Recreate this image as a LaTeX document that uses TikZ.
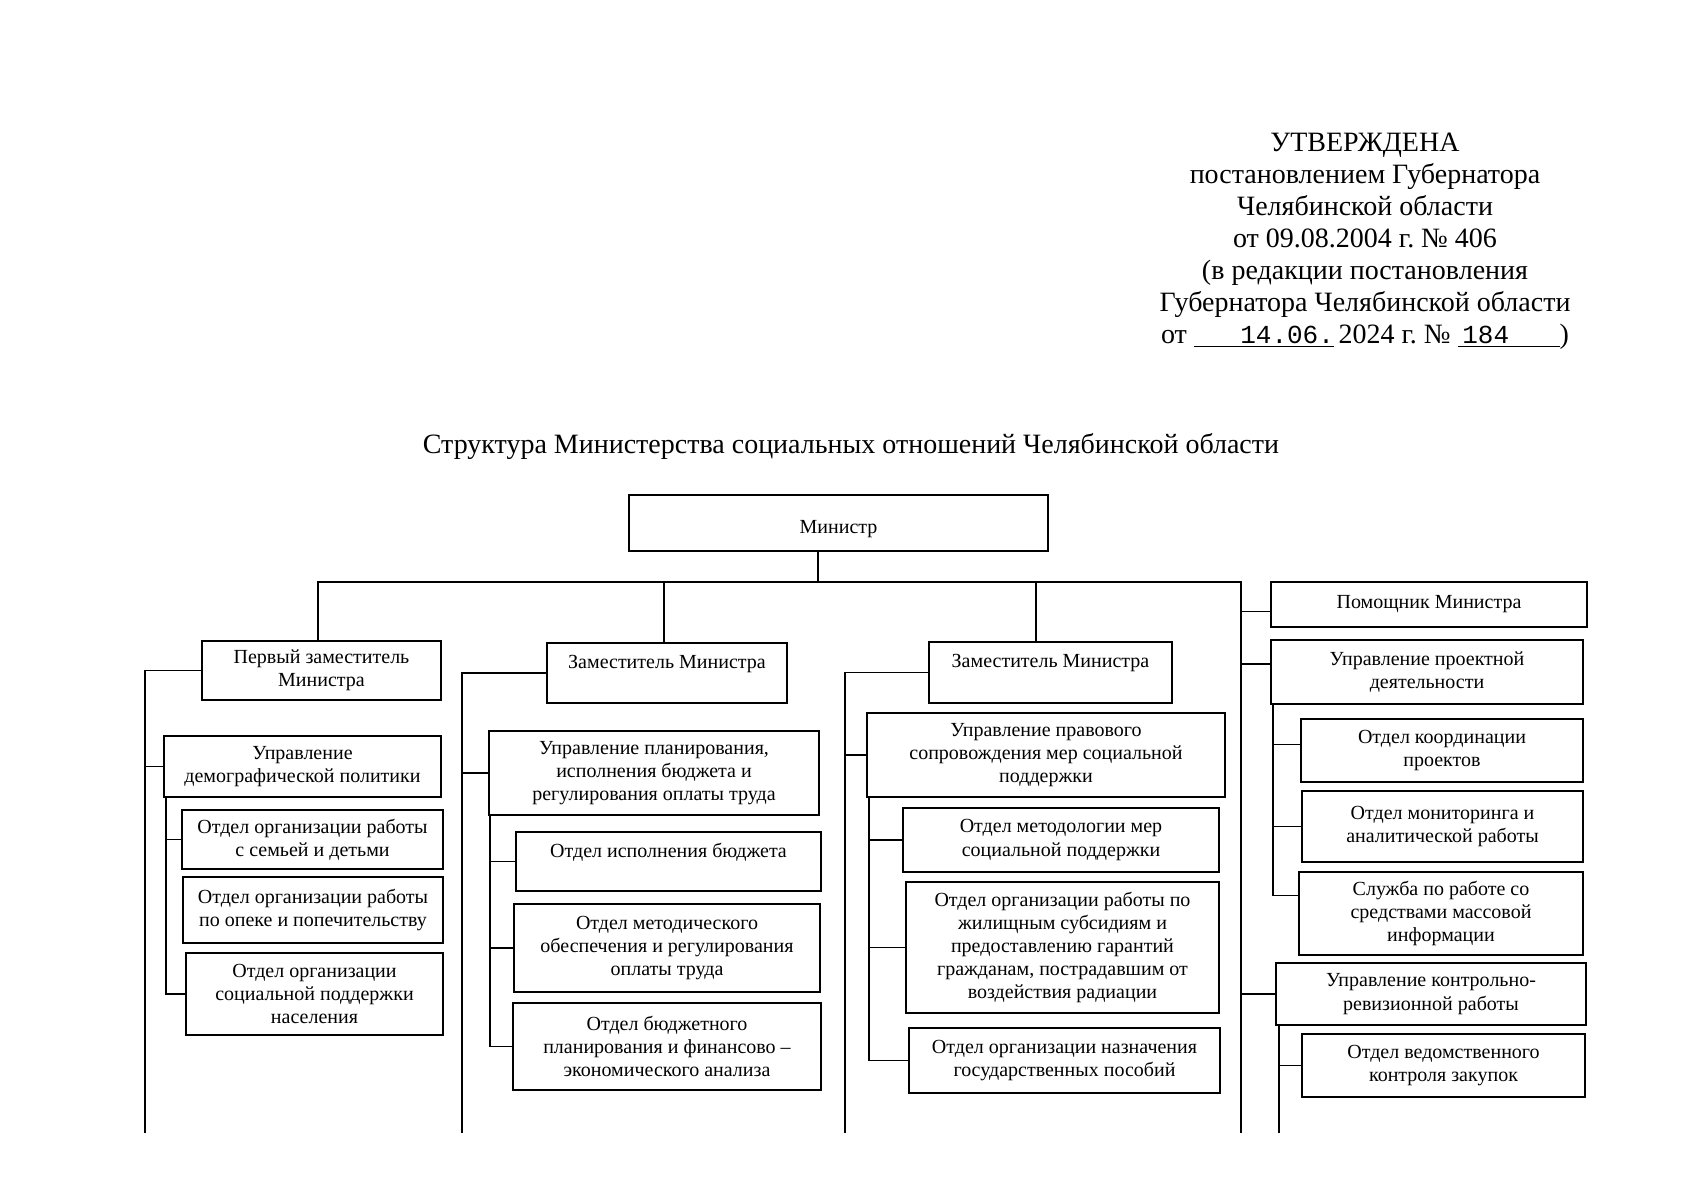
\documentclass[tikz,border=0pt]{standalone}
\usepackage{fontspec}
\setmainfont{Liberation Serif}
\newfontfamily\monof{Liberation Mono}
\frenchspacing
\newcommand\orgbox[6]{\node[box, minimum width={(#4-#2)*0.5pt}, minimum height={(#5-#3)*0.5pt}] (#1) at ({(#2+#4)/2},{(#3+#5)/2}) {#6};}
\newcommand\tieto[2]{\draw[conn] (#2.west) -- (#2.west -| #1);}
\begin{document}
\begin{tikzpicture}[x=0.5pt,y=-0.5pt,
  box/.style={draw, line width=1pt, inner sep=0pt, align=center, font=\fontsize{10}{11.6}\selectfont},
  conn/.style={line width=0.95pt},
  hdr/.style={align=center, font=\fontsize{14}{16}\selectfont}]
\useasboundingbox (0,0) rectangle (1698,1200);

% header
\node[hdr] (head) at (1365,241) {УТВЕРЖДЕНА\\постановлением Губернатора\\Челябинской области\\от 09.08.2004 г. № 406\\(в редакции постановления\\Губернатора Челябинской области\\от \underline{\makebox[70pt][r]{\fontsize{13}{16}\monof 14.06.}}\,2024 г. № \underline{\makebox[51pt][l]{\,\fontsize{13}{16}\monof 184}})};
\node[hdr] (title) at (851,446) {Структура Министерства социальных отношений Челябинской области};

% boxes
\orgbox{M}{629}{495}{1048}{551}{\raisebox{-5pt}[0pt][0pt]{Министр}}
\orgbox{D1}{202}{641}{441}{700}{Первый заместитель\\Министра}
\orgbox{D2}{547}{643}{787}{703}{Заместитель Министра\\\mbox{}}
\orgbox{D3}{929}{642}{1172}{703}{Заместитель Министра\\\mbox{}}

\orgbox{U1}{164}{736}{441}{797}{Управление\\демографической политики}
\orgbox{O11}{182}{810}{443}{869}{Отдел организации работы\\с семьей и детьми}
\orgbox{O12}{183}{877}{443}{943}{Отдел организации работы\\по опеке и попечительству}
\orgbox{O13}{186}{953}{443}{1035}{Отдел организации\\социальной поддержки\\населения}

\orgbox{U2}{489}{731}{819}{815}{Управление планирования,\\исполнения бюджета и\\регулирования оплаты труда}
\orgbox{O21}{516}{832}{821}{891}{Отдел исполнения бюджета\\\mbox{}}
\orgbox{O22}{514}{904}{820}{992}{Отдел методического\\обеспечения и регулирования\\оплаты труда}
\orgbox{O23}{513}{1003}{821}{1090}{Отдел бюджетного\\планирования и финансово –\\экономического анализа}

\orgbox{U3}{867}{713}{1225}{797}{Управление правового\\сопровождения мер социальной\\поддержки}
\orgbox{O31}{903}{808}{1219}{872}{Отдел методологии мер\\социальной поддержки}
\orgbox{O32}{906}{882}{1219}{1013}{Отдел организации работы по\\жилищным субсидиям и\\предоставлению гарантий\\гражданам, пострадавшим от\\воздействия радиации}
\orgbox{O33}{909}{1028}{1220}{1093}{Отдел организации назначения\\государственных пособий}

\orgbox{P}{1271}{582}{1587}{627}{Помощник Министра}
\orgbox{U4}{1271}{640}{1583}{704}{Управление проектной\\деятельности}
\orgbox{O41}{1301}{719}{1583}{782}{Отдел координации\\проектов}
\orgbox{O42}{1302}{791}{1583}{862}{Отдел мониторинга и\\аналитической работы}
\orgbox{O43}{1299}{872}{1583}{955}{Служба по работе со\\средствами массовой\\информации}
\orgbox{U5}{1276}{963}{1586}{1025}{Управление контрольно-\\ревизионной работы}
\orgbox{O51}{1302}{1034}{1585}{1097}{Отдел ведомственного\\контроля закупок}

% main connectors
\coordinate (mstem) at (818,582);
\coordinate (hl) at (318,582);
\coordinate (hr) at (1241,582);
\coordinate (rend) at (1241,1133);
\coordinate (c2) at (664,582);
\coordinate (c3) at (1036,582);
\draw[conn] (mstem |- M.south) -- (mstem);
\draw[conn] (hl |- D1.north) -- (hl) -- (hr) -- (rend);
\draw[conn] (c2) -- (c2 |- D2.north);
\draw[conn] (c3) -- (c3 |- D3.north);

% column 1
\coordinate (s1) at (145,1133);
\draw[conn] (D1.west) -| (s1);
\tieto{s1}{U1}
\coordinate (u1s) at (166,797);
\draw[conn] (u1s) |- (O13.west);
\tieto{u1s}{O11}

% column 2
\coordinate (s2) at (462,1133);
\draw[conn] (D2.west) -| (s2);
\tieto{s2}{U2}
\coordinate (u2s) at (490,815);
\draw[conn] (u2s) |- (O23.west);
\tieto{u2s}{O21}
\tieto{u2s}{O22}

% column 3
\coordinate (s3) at (845,1133);
\draw[conn] (D3.west) -| (s3);
\tieto{s3}{U3}
\coordinate (u3s) at (869,797);
\draw[conn] (u3s) |- (O33.west);
\tieto{u3s}{O31}
\tieto{u3s}{O32}

% column 4
\draw[conn] ([yshift=-3.5pt]P.west) -- ([yshift=-3.5pt]P.west -| rend);
\draw[conn] ([yshift=4pt]U4.west) -- ([yshift=4pt]U4.west -| rend);
\tieto{rend}{U5}
\coordinate (u4s) at (1273,704);
\draw[conn] (u4s) |- ([yshift=9pt]O43.west);
\draw[conn] ([yshift=3pt]O41.west) -- ([yshift=3pt]O41.west -| u4s);
\tieto{u4s}{O42}
\coordinate (u5s) at (1279,1025);
\draw[conn] (u5s) -- (u5s |- rend);
\tieto{u5s}{O51}
\end{tikzpicture}
\end{document}
